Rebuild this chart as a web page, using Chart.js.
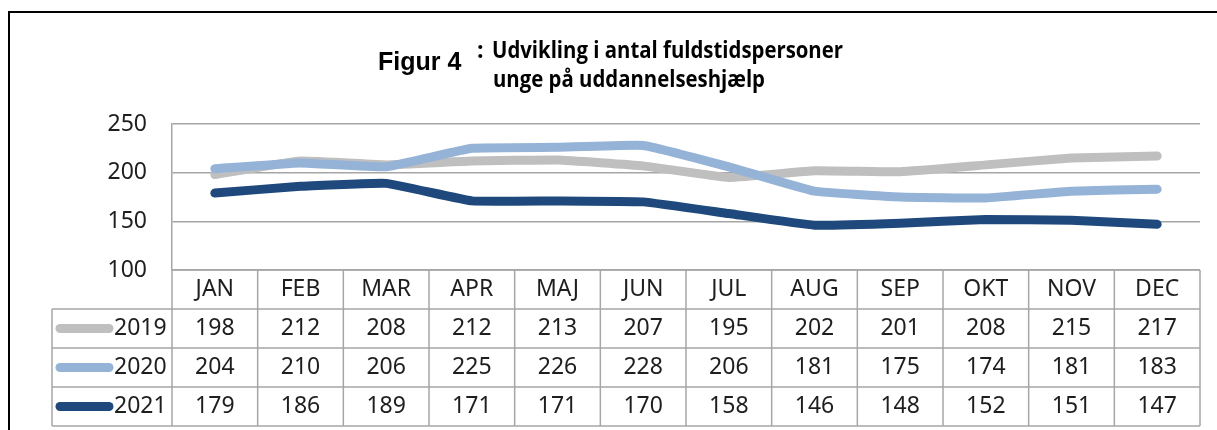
<!DOCTYPE html>
<html>
<head>
<meta charset="utf-8">
<script src="https://cdn.jsdelivr.net/npm/chart.js@4/dist/chart.umd.min.js"></script>
<style>
  body { margin: 0; background: #fff; }
</style>
</head>
<body>
<canvas id="figChart" width="1217" height="430"></canvas>
<script>
var months = ['JAN', 'FEB', 'MAR', 'APR', 'MAJ', 'JUN', 'JUL', 'AUG', 'SEP', 'OKT', 'NOV', 'DEC'];
var years = ['2019', '2020', '2021'];
var values2019 = [198, 212, 208, 212, 213, 207, 195, 202, 201, 208, 215, 217];
var values2020 = [204, 210, 206, 225, 226, 228, 206, 181, 175, 174, 181, 183];
var values2021 = [179, 186, 189, 171, 171, 170, 158, 146, 148, 152, 151, 147];
var yTicks = [100, 150, 200, 250];

var lineColors = ['#bfbfbf', '#95b3d7', '#1f497d'];
var gridColor = '#a6a6a6';
var textColor = '#1e1e1e';
var tableFont = '23px "Noto Sans"';

// title, frame and the data table under the plot
var extrasPlugin = {
  id: 'extras',
  afterDraw: function(chart) {
    var ctx = chart.ctx;
    var area = chart.chartArea;
    var xs = chart.scales.x;
    var colW = (area.right - area.left) / months.length;
    var rowH = 39;
    var top = area.bottom;
    var legendLeft = 52;
    ctx.save();

    // frame
    ctx.strokeStyle = '#000';
    ctx.lineWidth = 2;
    ctx.beginPath();
    ctx.moveTo(9, 430);
    ctx.lineTo(9, 12);
    ctx.lineTo(1217, 12);
    ctx.stroke();

    // title
    ctx.fillStyle = '#000';
    ctx.textBaseline = 'alphabetic';
    ctx.textAlign = 'left';
    ctx.font = 'bold 25px "Liberation Sans"';
    ctx.fillText('Figur 4', 378, 70);
    ctx.font = 'bold 23px "Open Sans"';
    ctx.fillText(':', 477, 58);
    var l1 = 'Udvikling i antal fuldstidspersoner';
    var l2 = 'unge på uddannelseshjælp';
    var sx = 351 / ctx.measureText(l1).width;
    ctx.save();
    ctx.translate(492, 58);
    ctx.scale(sx, 1);
    ctx.fillText(l1, 0, 0);
    ctx.restore();
    ctx.save();
    ctx.translate(493, 87);
    ctx.scale(sx, 1);
    ctx.fillText(l2, 0, 0);
    ctx.restore();

    // table grid
    ctx.strokeStyle = gridColor;
    ctx.lineWidth = 1.5;
    ctx.beginPath();
    for (var i = 0; i <= months.length; i++) {
      var gx = area.left + i * colW;
      ctx.moveTo(gx, top);
      ctx.lineTo(gx, top + rowH * 4);
    }
    ctx.moveTo(legendLeft, top + rowH);
    ctx.lineTo(legendLeft, top + rowH * 4);
    ctx.moveTo(area.left, top);
    ctx.lineTo(area.right, top);
    for (var r = 1; r <= 4; r++) {
      ctx.moveTo(legendLeft, top + rowH * r);
      ctx.lineTo(area.right, top + rowH * r);
    }
    ctx.stroke();

    // text
    ctx.font = tableFont;
    ctx.fillStyle = textColor;
    ctx.textAlign = 'center';
    ctx.textBaseline = 'middle';
    months.forEach(function(m, i) {
      ctx.fillText(m, xs.getPixelForValue(i), top + rowH / 2);
    });
    chart.data.datasets.forEach(function(ds, r) {
      var cy = top + rowH * (r + 1) + rowH / 2;
      ds.data.forEach(function(v, i) {
        ctx.fillText(String(v), xs.getPixelForValue(i), cy);
      });
      // legend key
      ctx.strokeStyle = ds.borderColor;
      ctx.lineWidth = 9;
      ctx.lineCap = 'round';
      ctx.beginPath();
      ctx.moveTo(60, cy);
      ctx.lineTo(109, cy);
      ctx.stroke();
      ctx.textAlign = 'left';
      ctx.fillText(ds.label, 114, cy);
      ctx.textAlign = 'center';
    });
    ctx.restore();
  }
};

var ctxFig = document.getElementById('figChart').getContext('2d');
var figChart = new Chart(ctxFig, {
  type: 'line',
  data: {
    labels: months,
    datasets: [{
      label: years[0],
      data: values2019,
      borderColor: lineColors[0],
      order: 3
    }, {
      label: years[1],
      data: values2020,
      borderColor: lineColors[1],
      order: 2
    }, {
      label: years[2],
      data: values2021,
      borderColor: lineColors[2],
      order: 1
    }]
  },
  options: {
    responsive: false,
    animation: false,
    layout: {
      padding: { top: 124, bottom: 160, left: 0, right: 17 }
    },
    elements: {
      line: {
        borderWidth: 9,
        borderCapStyle: 'round',
        borderJoinStyle: 'round',
        tension: 0.1
      },
      point: { radius: 0, hoverRadius: 0 }
    },
    scales: {
      x: {
        display: false,
        offset: true
      },
      y: {
        min: yTicks[0],
        max: yTicks[yTicks.length - 1],
        afterFit: function(scale) { scale.width = 172; },
        afterBuildTicks: function(scale) {
          scale.ticks = yTicks.map(function(v) { return { value: v }; });
        },
        grid: {
          color: gridColor,
          lineWidth: 1.5,
          drawTicks: false
        },
        border: { color: gridColor, width: 1.5 },
        ticks: {
          padding: 25,
          color: textColor,
          font: { family: 'Noto Sans', size: 23 }
        }
      }
    },
    plugins: {
      legend: { display: false },
      title: { display: false },
      tooltip: { enabled: false }
    }
  },
  plugins: [extrasPlugin]
});
</script>
</body>
</html>
